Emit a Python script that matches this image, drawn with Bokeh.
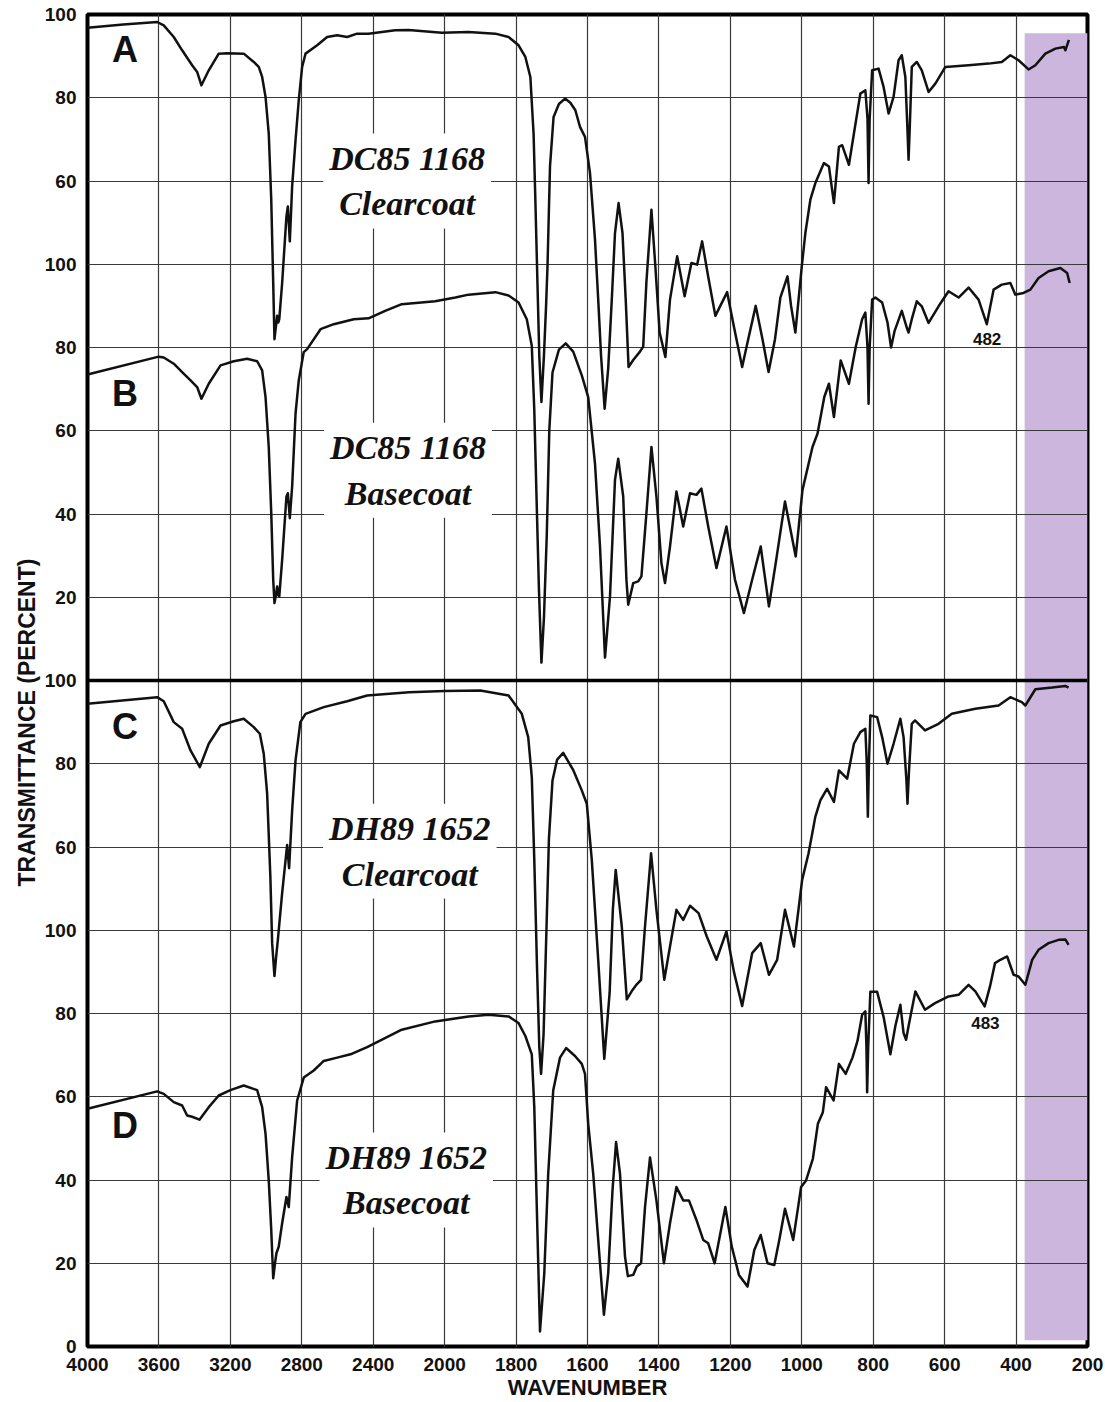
import numpy as np
from bokeh.plotting import figure
from bokeh.models import ColumnDataSource, FixedTicker, Span, Title
from bokeh.core.properties import value
from bokeh.embed import file_html
from bokeh.resources import INLINE

# ---------------- data (wavenumber, % transmittance) ----------------
A_wn = [4000, 3800, 3610, 3573, 3517, 3470, 3414, 3386, 3362, 3321, 3265, 3218, 3125, 3069, 3041, 3022,
        3003, 2985, 2971, 2960, 2953, 2945, 2938, 2932, 2926, 2910, 2886, 2878, 2867, 2854, 2835, 2817,
        2798, 2779, 2714, 2658, 2602, 2546, 2490, 2426, 2277, 2202, 2100, 2016, 1933, 1858, 1821, 1793,
        1774, 1760, 1751, 1746, 1740, 1735, 1729, 1722, 1716, 1712, 1705, 1695, 1680, 1663, 1648, 1634,
        1621, 1607, 1593, 1579, 1570, 1562, 1552, 1542, 1532, 1523, 1513, 1502, 1493, 1485, 1472, 1453,
        1444, 1435, 1421, 1410, 1398, 1382, 1369, 1349, 1328, 1309, 1293, 1279, 1262, 1242, 1209, 1190,
        1167, 1150, 1129, 1110, 1093, 1075, 1060, 1040, 1030, 1018, 1000, 990, 976, 962, 938, 924, 910,
        896, 887, 868, 854, 836, 822, 816, 813, 810, 803, 785, 771, 757, 743, 729, 720, 710, 704, 701,
        698, 692, 678, 664, 645, 626, 598, 533, 477, 440, 416, 393, 365, 346, 318, 290, 266, 262, 252]
A_T = [96.8, 97.6, 98.2, 97.4, 94.6, 91.4, 87.8, 86.2, 83.0, 86.6, 90.6, 90.7, 90.6, 88.6, 87.4, 85.0,
       80.2, 71.4, 55.5, 35.5, 22.0, 25.0, 27.6, 26.0, 26.8, 35.5, 51.5, 53.9, 45.5, 58.7, 69.8, 79.4,
       87.4, 90.6, 92.6, 94.6, 95.0, 94.6, 95.4, 95.4, 96.2, 96.3, 95.9, 95.6, 95.8, 95.4, 94.6, 92.6,
       89.8, 85.0, 71.4, 55.5, 35.0, 18.0, 6.9, 18.0, 30.0, 39.5, 63.5, 75.4, 78.5, 79.8, 78.8, 77.0,
       73.0, 70.6, 61.9, 45.9, 31.5, 18.0, 5.3, 15.0, 31.5, 47.5, 54.7, 47.5, 31.5, 15.3, 17.0, 19.0,
       20.2, 35.8, 53.1, 39.5, 23.6, 17.7, 31.5, 41.9, 32.3, 40.3, 39.9, 45.5, 37.0, 27.6, 33.3, 25.0,
       15.3, 22.0, 30.0, 22.0, 14.1, 22.0, 32.0, 37.1, 30.0, 23.6, 39.5, 47.5, 55.5, 59.5, 64.3, 63.5, 54.7,
       68.2, 68.6, 63.9, 71.4, 81.0, 81.8, 75.0, 59.5, 75.0, 86.6, 87.0, 82.6, 76.2, 80.2, 89.0, 90.2, 85.0, 72.0, 65.1,
       72.0, 87.4, 88.6, 86.6, 81.4, 83.4, 87.4, 87.8, 88.2, 88.6, 90.2, 89.0, 86.8, 87.8, 90.6, 91.8, 92.2, 91.4, 93.9]

B_wn = [4000, 3601, 3573, 3517, 3470, 3423, 3386, 3362, 3321, 3255, 3181, 3106, 3050, 3022, 3003, 2985,
        2971, 2960, 2953, 2945, 2938, 2932, 2926, 2910, 2886, 2878, 2867, 2854, 2835, 2817, 2789, 2770,
        2695, 2621, 2509, 2426, 2333, 2240, 2053, 1970, 1933, 1858, 1821, 1793, 1770, 1756, 1749, 1743,
        1736, 1729, 1722, 1714, 1707, 1698, 1680, 1661, 1640, 1616, 1598, 1579, 1565, 1551, 1537, 1523,
        1514, 1500, 1491, 1486, 1472, 1458, 1449, 1435, 1421, 1407, 1393, 1383, 1369, 1351, 1332, 1313,
        1295, 1281, 1262, 1239, 1211, 1187, 1162, 1139, 1115, 1092, 1073, 1047, 1017, 998, 970, 956, 937,
        924, 910, 891, 868, 849, 831, 822, 816, 813, 810, 803, 794, 775, 760, 750, 740, 720, 705, 701, 692,
        678, 664, 645, 617, 589, 561, 533, 505, 482, 463, 440, 416, 402, 379, 360, 337, 309, 276, 257, 250]
B_T = [73.5, 77.8, 77.6, 76.1, 74.1, 72.1, 70.5, 67.7, 71.3, 75.7, 76.7, 77.3, 76.7, 74.5, 68.1, 56.1,
       40.2, 24.2, 18.6, 20.5, 22.6, 20.5, 20.2, 29.0, 44.2, 45.0, 39.0, 46.6, 64.1, 72.1, 78.9, 79.6,
       84.4, 85.6, 86.8, 87.0, 88.8, 90.4, 91.1, 92.0, 92.7, 93.3, 92.5, 90.8, 86.8, 80.4, 65.0, 45.0,
       22.0, 4.3, 15.0, 35.0, 60.0, 74.0, 79.5, 81.0, 79.0, 73.3, 68.1, 52.1, 32.2, 5.5, 20.2, 48.2,
       53.3, 44.2, 24.2, 18.2, 23.4, 23.8, 25.0, 40.2, 56.1, 44.2, 28.2, 23.4, 32.2, 45.4, 37.0, 45.0,
       44.6, 46.1, 37.0, 27.0, 37.0, 24.2, 16.2, 24.2, 32.2, 17.8, 28.2, 43.0, 29.8, 45.8, 56.1, 59.3, 68.1,
       71.3, 63.3, 76.9, 71.3, 80.1, 86.8, 88.4, 80.0, 66.5, 80.0, 91.5, 92.0, 90.8, 86.0, 80.0, 84.0, 88.8, 84.5, 83.6, 86.8,
       91.1, 89.9, 85.9, 89.9, 93.5, 92.0, 94.4, 91.5, 85.6, 93.9, 95.1, 95.5, 92.7, 93.1, 93.9, 96.7, 98.3, 99.1, 97.9, 95.5]

C_wn = [4000, 3610, 3573, 3517, 3470, 3423, 3371, 3321, 3255, 3181, 3125, 3069, 3035, 3013, 2994, 2976,
        2966, 2953, 2945, 2934, 2910, 2882, 2871, 2854, 2835, 2808, 2779, 2677, 2546, 2434, 2200, 2000,
        1900, 1821, 1784, 1766, 1756, 1749, 1741, 1735, 1730, 1723, 1715, 1708, 1698, 1685, 1668, 1640,
        1616, 1602, 1588, 1570, 1553, 1538, 1529, 1521, 1504, 1490, 1476, 1462, 1450, 1439, 1422, 1407,
        1385, 1369, 1351, 1332, 1313, 1289, 1266, 1239, 1211, 1190, 1167, 1139, 1115, 1092, 1069, 1047,
        1022, 999, 981, 962, 948, 929, 910, 896, 873, 854, 836, 822, 818, 815, 812, 808, 789, 775, 760,
        743, 724, 715, 707, 704, 700, 692, 683, 655, 617, 580, 514, 449, 416, 384, 374, 346, 299, 262, 253]
C_T = [94.4, 96.0, 95.0, 90.0, 88.4, 83.2, 79.2, 84.8, 89.2, 90.2, 90.8, 88.8, 87.2, 82.4, 72.8, 52.9,
       36.9, 29.0, 33.0, 37.7, 48.9, 60.5, 54.9, 68.8, 80.8, 90.0, 92.0, 93.6, 95.0, 96.4, 97.2, 97.5,
       97.6, 96.4, 92.0, 86.4, 76.8, 56.9, 30.0, 12.0, 5.5, 15.0, 40.0, 62.0, 76.0, 81.0, 82.6, 78.5,
       73.6, 70.4, 56.9, 32.9, 9.1, 25.0, 45.0, 54.5, 40.9, 23.4, 25.4, 27.0, 28.1, 40.9, 58.5, 44.9,
       28.1, 36.1, 44.9, 42.5, 45.9, 44.1, 38.5, 32.9, 39.7, 30.0, 21.8, 34.5, 36.9, 29.3, 32.9, 44.9,
       36.1, 52.1, 58.5, 67.3, 71.2, 74.0, 70.8, 78.4, 76.4, 84.8, 87.6, 88.4, 80.0, 67.3, 80.0, 91.6, 91.2, 86.4, 80.0,
       84.8, 90.8, 86.4, 76.0, 70.4, 78.0, 89.6, 90.4, 88.0, 89.6, 92.0, 93.2, 94.0, 96.0, 94.8, 94.0, 97.9, 98.3, 98.7, 98.3]

D_wn = [4000, 3610, 3573, 3517, 3470, 3442, 3414, 3373, 3321, 3265, 3200, 3125, 3050, 3022, 3003, 2985,
        2971, 2960, 2950, 2942, 2929, 2910, 2886, 2873, 2854, 2826, 2789, 2733, 2677, 2602, 2527, 2434,
        2240, 2053, 1933, 1877, 1821, 1793, 1774, 1756, 1749, 1742, 1733, 1721, 1710, 1696, 1677, 1660,
        1635, 1616, 1607, 1598, 1584, 1570, 1554, 1542, 1530, 1520, 1509, 1495, 1487, 1472, 1462, 1450,
        1439, 1425, 1407, 1386, 1369, 1351, 1332, 1316, 1295, 1276, 1262, 1244, 1214, 1196, 1176, 1152,
        1133, 1115, 1096, 1077, 1063, 1047, 1024, 1002, 988, 969, 955, 941, 932, 911, 896, 877, 858, 844,
        831, 822, 819, 817, 814, 808, 789, 771, 752, 738, 724, 715, 708, 701, 682, 655, 627, 589, 561, 533,
        514, 488, 473, 459, 444, 425, 407, 393, 374, 355, 337, 309, 281, 262, 253]
D_T = [57.1, 61.3, 60.7, 58.7, 57.9, 55.5, 55.2, 54.5, 57.5, 60.3, 61.6, 62.7, 61.6, 57.5, 51.1, 39.9,
       28.0, 16.4, 20.0, 22.4, 24.0, 29.6, 35.9, 33.5, 45.5, 59.1, 64.6, 66.3, 68.6, 69.4, 70.2, 71.9,
       76.1, 78.1, 79.3, 79.7, 79.3, 77.7, 74.6, 70.2, 57.5, 33.5, 3.6, 17.6, 41.5, 61.5, 69.4, 71.7,
       69.8, 67.9, 65.5, 53.5, 41.5, 25.6, 7.6, 17.6, 37.5, 49.1, 41.5, 21.6, 16.9, 17.2, 19.2, 20.0,
       33.5, 45.4, 35.1, 20.0, 29.6, 38.3, 35.1, 35.1, 30.4, 25.6, 24.8, 20.0, 33.5, 24.0, 17.2, 14.4,
       23.2, 26.8, 20.0, 19.6, 25.6, 33.1, 25.6, 38.3, 39.9, 45.1, 53.5, 56.3, 62.3, 59.1, 67.9, 65.5, 69.4, 73.4,
       79.7, 80.5, 72.0, 61.1, 72.0, 85.2, 85.2, 79.2, 70.2, 77.0, 82.1, 75.3, 73.7, 77.0, 85.3, 80.9, 82.5, 84.1, 84.5, 86.9,
       85.3, 81.7, 86.5, 92.1, 92.9, 93.7, 89.3, 88.9, 86.9, 92.9, 95.3, 96.9, 97.7, 97.8, 96.5]

trace_names = ["A", "B", "C", "D"]
sample_labels = ["DC85 1168\nClearcoat", "DC85 1168\nBasecoat",
                 "DH89 1652\nClearcoat", "DH89 1652\nBasecoat"]

x_tick_wn = [4000, 3600, 3200, 2800, 2400, 2000, 1800, 1600, 1400, 1200, 1000, 800, 600, 400, 200]
y_tick_text = ["0", "20", "40", "60", "80", "100", "60", "80", "100",
               "20", "40", "60", "80", "100", "60", "80", "100"]

peak_text = ["482", "483"]

# ---------------- layout helpers (positions / styles) ----------------
OFFSETS = [220, 160, 60, 0]          # vertical stacking of the four spectra
LETTER_POS = [(3790, 91.5), (3790, 69.0), (3790, 89.0), (3790, 53.0)]
SAMPLE_POS = [(2210, 60.0), (2205, 50.5), (2195, 59.0), (2215, 40.0)]
PEAK_POS = [(1, 481, 82.0), (3, 486, 77.8)]  # (trace index, wn, T)
HILITE = (376, 200, 1.5, 315.5)


def to_u(w):
    """IR-chart abscissa: 4000-2000 compressed 2x relative to 2000-200."""
    w = np.asarray(w, dtype=float)
    return np.where(w >= 2000, (4000.0 - w) / 2.0, 1000.0 + (2000.0 - w))


p = figure(width=1105, height=1402, x_range=(0, 2800), y_range=(0, 320),
           output_backend="svg", toolbar_location=None,
           min_border_left=87, min_border_right=18, min_border_top=14, min_border_bottom=51)
p.background_fill_color = "white"
p.border_fill_color = "white"
p.outline_line_color = "black"
p.outline_line_width = 4

# highlight band
p.quad(left=[float(to_u(HILITE[0]))], right=[float(to_u(HILITE[1]))],
       bottom=[HILITE[2]], top=[HILITE[3]], fill_color="#cdb6dd", line_color=None, level="image")

# axes
xt = [int(round(v)) for v in to_u(x_tick_wn)]
p.xaxis.ticker = FixedTicker(ticks=xt)
p.xaxis.major_label_overrides = {t: str(w) for t, w in zip(xt, x_tick_wn)}
yt = list(range(0, 321, 20))
p.yaxis.ticker = FixedTicker(ticks=yt)
p.yaxis.major_label_overrides = {t: s for t, s in zip(yt, y_tick_text)}
for ax in (p.xaxis[0], p.yaxis[0]):
    ax.axis_line_color = None
    ax.major_tick_line_color = None
    ax.minor_tick_line_color = None
    ax.major_label_text_font = "Liberation Sans"
    ax.major_label_text_font_style = "bold"
    ax.major_label_text_font_size = "19px"
    ax.major_label_text_color = "#111111"
p.xaxis.major_label_standoff = 5
p.yaxis.major_label_standoff = 5
p.xaxis.axis_label = "WAVENUMBER"
p.xaxis.axis_label_text_font = "Liberation Sans"
p.xaxis.axis_label_text_font_style = "bold"
p.xaxis.axis_label_text_font_size = "22px"
p.xaxis.axis_label_text_color = "#111111"
p.xaxis.axis_label_standoff = 1

# y title (starts lower than the frame centre, as in the original)
p.add_layout(Title(text="TRANSMITTANCE (PERCENT)", align="left", offset=460,
                   text_font="Liberation Sans", text_font_style="bold",
                   text_font_size="23px", text_color="#111111", standoff=4), "left")

for g in (p.xgrid[0], p.ygrid[0]):
    g.grid_line_color = "#3a3a3a"
    g.grid_line_width = 1.2

p.add_layout(Span(location=160, dimension="width", line_color="black", line_width=3.5))

# spectra
wns = [A_wn, B_wn, C_wn, D_wn]
tts = [A_T, B_T, C_T, D_T]
for wn, tt, off in zip(wns, tts, OFFSETS):
    src = ColumnDataSource(dict(x=to_u(wn), y=np.asarray(tt) + off))
    p.line("x", "y", source=src, line_color="#111111", line_width=2.5, line_join="round")

# letters
let_src = ColumnDataSource(dict(
    x=to_u([q[0] for q in LETTER_POS]),
    y=[q[1] + o for q, o in zip(LETTER_POS, OFFSETS)],
    t=trace_names))
p.text("x", "y", text="t", source=let_src, text_font=value("Liberation Sans"),
       text_font_style="bold", text_font_size="36px", text_align="center",
       text_baseline="middle", text_color="#111111")

# sample names
smp_src = ColumnDataSource(dict(
    x=to_u([q[0] for q in SAMPLE_POS]),
    y=[q[1] + o for q, o in zip(SAMPLE_POS, OFFSETS)],
    t=sample_labels))
p.text("x", "y", text="t", source=smp_src, text_font=value("Liberation Serif"),
       text_font_style="bold italic", text_font_size="34px", text_align="center",
       text_baseline="middle", text_line_height=1.24, text_color="#111111",
       background_fill_color="white", padding=6)

# peak labels
pk_src = ColumnDataSource(dict(
    x=to_u([q[1] for q in PEAK_POS]),
    y=[q[2] + OFFSETS[q[0]] for q in PEAK_POS],
    t=peak_text))
p.text("x", "y", text="t", source=pk_src, text_font=value("Liberation Sans"),
       text_font_style="bold", text_font_size="17px", text_align="center",
       text_baseline="middle", text_color="#111111",
       background_fill_color="white", padding=1)

open("out.html", "w").write(file_html(p, INLINE))
